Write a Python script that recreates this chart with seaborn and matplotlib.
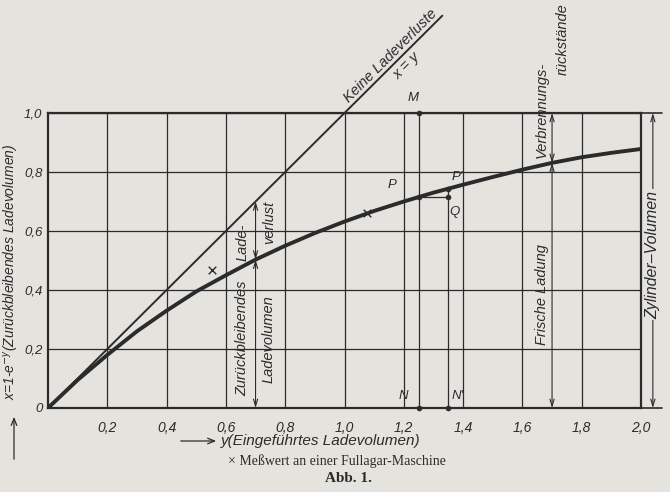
import numpy as np
import pandas as pd
import matplotlib
matplotlib.use("Agg")
import matplotlib.pyplot as plt
import seaborn as sns

# Curve x = 1 - e^-y (remaining charge volume)
y_charge = [0.0, 0.1, 0.2, 0.3, 0.4, 0.5, 0.6, 0.7, 0.8, 0.9, 1.0,
            1.1, 1.2, 1.3, 1.4, 1.5, 1.6, 1.7, 1.8, 1.9, 2.0]
x_remain = [0.0, 0.095, 0.18, 0.26, 0.33, 0.395, 0.45, 0.503, 0.55, 0.593, 0.632,
            0.668, 0.70, 0.73, 0.757, 0.783, 0.808, 0.831, 0.85, 0.865, 0.878]

# no charge losses: x = y
y_ideal = [0.0, 1.33]
x_ideal = [0.0, 1.33]

# measured values on a Fullagar engine
y_meas = [0.553, 1.076]
x_meas = [0.468, 0.661]

# construction points
pt_names = ["M", "N", "P", "P'", "Q", "N'"]
pt_y = [1.25, 1.25, 1.25, 1.35, 1.35, 1.35]
pt_x = [1.0, 0.0, 0.715, 0.743, 0.715, 0.0]

xticks = [0.2, 0.4, 0.6, 0.8, 1.0, 1.2, 1.4, 1.6, 1.8, 2.0]
xtick_labels = ["0,2", "0,4", "0,6", "0,8", "1,0", "1,2", "1,4", "1,6", "1,8", "2,0"]
yticks = [0.0, 0.2, 0.4, 0.6, 0.8, 1.0]
ytick_labels = ["0", "0,2", "0,4", "0,6", "0,8", "1,0"]

ink = "#2b2b2b"
paper = "#e5e3de"

sns.set_style("white")
plt.rcParams["font.family"] = ["Liberation Sans", "DejaVu Sans"]
plt.rcParams["mathtext.fontset"] = "custom"
plt.rcParams["mathtext.it"] = "Liberation Sans:italic"

fig = plt.figure(figsize=(6.7, 4.92), dpi=100, facecolor=paper)
ax = fig.add_axes([48 / 670, 1 - 408 / 492, 593 / 670, 295 / 492])
ax.set_facecolor(paper)

# main curve and x=y line
sns.lineplot(x=y_charge, y=x_remain, ax=ax, color=ink, linewidth=2.8, zorder=5)
sns.lineplot(x=y_ideal, y=x_ideal, ax=ax, color=ink, linewidth=1.4, clip_on=False, zorder=5)

# measured points
sns.scatterplot(x=y_meas, y=x_meas, ax=ax, marker="x", color=ink, s=30,
                linewidth=1.0, zorder=6)

# construction lines M-N, P'-N', P-Q
pts = dict(zip(pt_names, zip(pt_y, pt_x)))
ax.plot([pts["M"][0], pts["N"][0]], [pts["M"][1], pts["N"][1]], color=ink, lw=0.9, zorder=4)
ax.plot([pts["P'"][0], pts["N'"][0]], [pts["P'"][1], pts["N'"][1]], color=ink, lw=0.9, zorder=4)
ax.plot([pts["P"][0], pts["Q"][0]], [pts["P"][1], pts["Q"][1]], color=ink, lw=0.9, zorder=4)
sns.scatterplot(x=pt_y, y=pt_x, ax=ax, color=ink, s=14, edgecolor=ink, zorder=7, clip_on=False)

lab_off = {"M": (-0.02, 0.05), "N": (-0.05, 0.04), "P": (-0.09, 0.04),
           "P'": (0.03, 0.04), "Q": (0.02, -0.05), "N'": (0.03, 0.04)}
for name, (yy, xx) in pts.items():
    dx, dy = lab_off[name]
    ax.text(yy + dx, xx + dy, name, fontsize=9.5, fontstyle="italic", color=ink,
            ha="center", va="center")

# axes, grid
ax.set_xlim(0, 2.0)
ax.set_ylim(0, 1.0)
ax.set_xticks(xticks, labels=xtick_labels, fontstyle="italic", fontsize=10)
ax.set_yticks(yticks, labels=ytick_labels, fontstyle="italic", fontsize=9.5)
ax.tick_params(axis="x", length=0, pad=9, colors=ink)
ax.tick_params(axis="y", length=0, pad=4, colors=ink)
ax.grid(True, color=ink, lw=0.9)
ax.set_axisbelow(True)
for s in ax.spines.values():
    s.set_color(ink)
    s.set_linewidth(1.6)

# top/bottom lines run on for the cylinder-volume dimension
ax.plot([2.0, 2.07], [1.0, 1.0], color=ink, lw=1.2, clip_on=False)
ax.plot([2.0, 2.07], [0.0, 0.0], color=ink, lw=1.2, clip_on=False)


def dim_arrow(xpos, y0, y1):
    ax.annotate("", xy=(xpos, y1), xytext=(xpos, y0), annotation_clip=False,
                arrowprops=dict(arrowstyle="<->,head_length=0.5,head_width=0.15",
                                color=ink, lw=0.8, shrinkA=0, shrinkB=0))


def vtext(xpos, ypos, s, size=10.5, **kw):
    ax.text(xpos, ypos, s, rotation=90, ha="center", va="center", fontsize=size,
            fontstyle="italic", color=ink, clip_on=False, **kw)


dim_arrow(0.7, 0.0, 0.503)
dim_arrow(0.7, 0.503, 0.7)
dim_arrow(1.7, 0.0, 0.831)
dim_arrow(1.7, 0.831, 1.0)
dim_arrow(2.04, 0.0, 1.0)

vtext(0.655, 0.56, "Lade-")
vtext(0.745, 0.63, "verlust")
vtext(0.655, 0.235, "Zurückbleibendes")
vtext(0.745, 0.235, "Ladevolumen")
vtext(1.665, 0.385, "Frische Ladung")
vtext(1.665, 1.01, "Verbrennungs-")
vtext(1.735, 1.25, "rückstände")
vtext(2.04, 0.52, "Zylinder–Volumen", size=11.5,
      bbox=dict(facecolor=paper, edgecolor="none", pad=1))

ax.text(1.155, 1.195, "Keine Ladeverluste", rotation=45, ha="center", va="center",
        fontsize=10.5, fontstyle="italic", color=ink, clip_on=False)
ax.text(1.21, 1.16, "x = y", rotation=45, ha="center", va="center",
        fontsize=10.5, fontstyle="italic", color=ink, clip_on=False)

# axis labels
fig.text(12 / 670, 1 - 272 / 492, r"x=1-e$^{-y}$(Zurückbleibendes Ladevolumen)",
         rotation=90, ha="center", va="center", fontsize=10, fontstyle="italic", color=ink)
ax.annotate("", xy=(14 / 670, 1 - 414 / 492), xytext=(14 / 670, 1 - 462 / 492),
            xycoords="figure fraction", textcoords="figure fraction",
            arrowprops=dict(arrowstyle="->,head_length=0.5,head_width=0.2", color=ink, lw=0.9))

fig.text(221 / 670, 1 - 441 / 492, "y(Eingeführtes Ladevolumen)", ha="left", va="center",
         fontsize=11, fontstyle="italic", color=ink)
ax.annotate("", xy=(219 / 670, 1 - 441 / 492), xytext=(178 / 670, 1 - 441 / 492),
            xycoords="figure fraction", textcoords="figure fraction",
            arrowprops=dict(arrowstyle="->,head_length=0.5,head_width=0.2", color=ink, lw=0.9))

fig.text(337 / 670, 1 - 461 / 492, "× Meßwert an einer Fullagar-Maschine", ha="center",
         va="center", fontsize=10, family="Liberation Serif", color=ink)
fig.text(348 / 670, 1 - 479 / 492, "Abb. 1.", ha="center", va="center", fontsize=11,
         family="Liberation Serif", fontweight="bold", color=ink)

fig.savefig("out.png", dpi=100, facecolor=paper)
